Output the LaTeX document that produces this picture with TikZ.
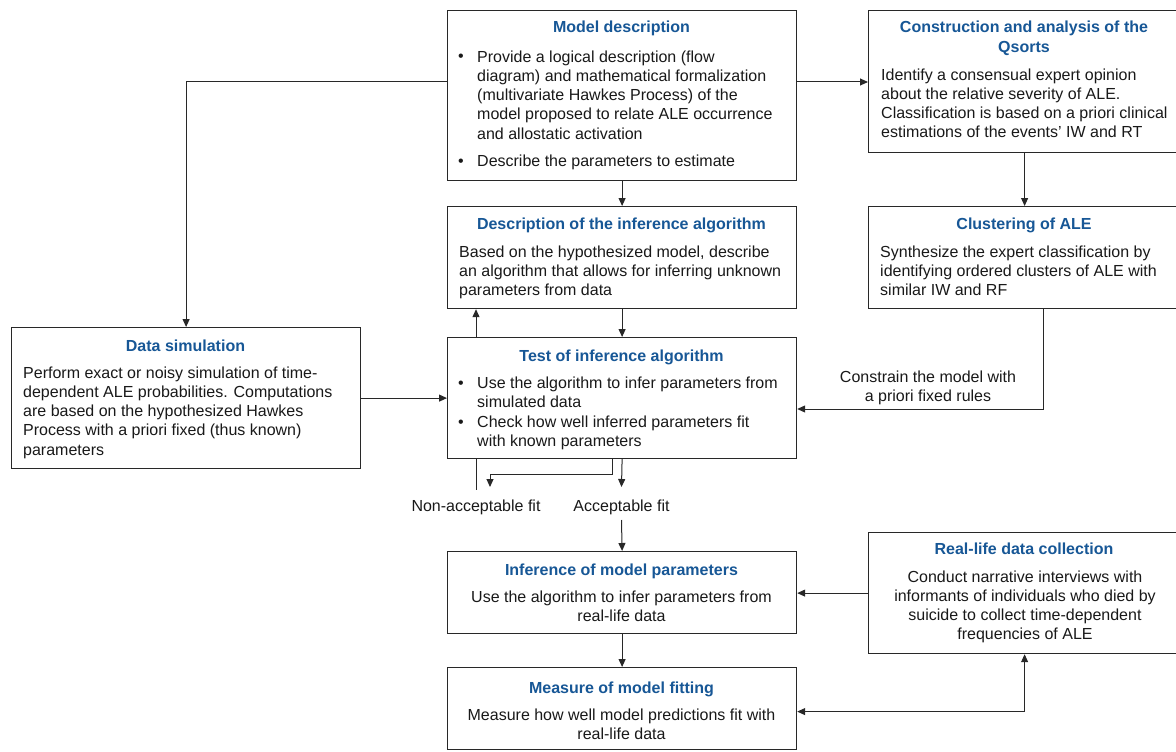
\documentclass[tikz,border=0pt]{standalone}
\usepackage{fontspec}
\setmainfont{Liberation Sans}
\usetikzlibrary{arrows.meta,calc}
\definecolor{ttl}{RGB}{23,87,150}
\definecolor{ln}{RGB}{40,40,40}
\newcommand{\bodysize}{\fontsize{16}{19.3}\selectfont}
\begin{document}
\begin{tikzpicture}[x=1pt,y=-1pt,
  box/.style={draw=ln, line width=1.2pt, inner sep=0, anchor=north west},
  ttlnode/.style={inner sep=0, font=\bodysize\bfseries, text=ttl, anchor=base, align=center},
  txtl/.style={inner sep=0, font=\bodysize, text=black!90, anchor=base west, align=left},
  txtc/.style={inner sep=0, font=\bodysize, text=black!90, anchor=base, align=center},
  arr/.style={draw=ln, line width=1pt, -{Triangle[length=8pt,width=7pt]}},
  dbl/.style={draw=ln, line width=1pt, {Triangle[length=8pt,width=7pt]}-{Triangle[length=8pt,width=7pt]}},
  plain/.style={draw=ln, line width=1pt}]
\useasboundingbox (0,0) rectangle (1176,752);
\fill[white] (0,0) rectangle (1176,752);

% boxes
\node[box, minimum width=349pt, minimum height=170pt] (md) at (447,10) {};
\node[box, minimum width=312pt, minimum height=142pt] (qs) at (868,10) {};
\node[box, minimum width=349pt, minimum height=102pt] (di) at (447,206) {};
\node[box, minimum width=312pt, minimum height=102pt] (cl) at (868,206) {};
\node[box, minimum width=349pt, minimum height=141pt] (ds) at (11,327) {};
\node[box, minimum width=349pt, minimum height=121pt] (te) at (447,337) {};
\node[box, minimum width=349pt, minimum height=82pt] (im) at (447,551) {};
\node[box, minimum width=349pt, minimum height=82pt] (mf) at (447,667) {};
\node[box, minimum width=312pt, minimum height=121pt] (rl) at (868,532) {};

% Model description
\node[ttlnode] (mdT) at (621.5,33) {Model description};
\node[txtl] (mdb1) at (458,62) {\textbullet};
\node[txtl] (mdt1) at (477,139.2) {Provide a logical description (flow\\diagram) and mathematical formalization\\(multivariate Hawkes Process) of the\\model proposed to relate ALE occurrence\\and allostatic activation};
\node[txtl] (mdb2) at (458,166) {\textbullet};
\node[txtl] (mdt2) at (477,166) {Describe the parameters to estimate};

% Qsorts
\node[ttlnode] (qsT) at (1024,52.3) {Construction and analysis of the\\Qsorts};
\node[txtl] (qsB) at (881,137.9) {Identify a consensual expert opinion\\about the relative severity of ALE.\\Classification is based on a priori clinical\\estimations of the events’ IW and RT};

% Description of inference algorithm
\node[ttlnode] (diT) at (621.5,229) {Description of the inference algorithm};
\node[txtl] (diB) at (459,295.6) {Based on the hypothesized model, describe\\an algorithm that allows for inferring unknown\\parameters from data};

% Clustering
\node[ttlnode] (clT) at (1024,229) {Clustering of ALE};
\node[txtl] (clB) at (880,295.6) {Synthesize the expert classification by\\identifying ordered clusters of ALE with\\similar IW and RF};

% Data simulation
\node[ttlnode] (dsT) at (185.5,351) {Data simulation};
\node[txtl] (dsB) at (23,455.2) {Perform exact or noisy simulation of time-\\dependent ALE probabilities. Computations\\are based on the hypothesized Hawkes\\Process with a priori fixed (thus known)\\parameters};

% Test
\node[ttlnode] (teT) at (621.5,361) {Test of inference algorithm};
\node[txtl] (teb1) at (458,388) {\textbullet};
\node[txtl] (tet1) at (477,407.3) {Use the algorithm to infer parameters from\\simulated data};
\node[txtl] (teb2) at (458,427) {\textbullet};
\node[txtl] (tet2) at (477,446.3) {Check how well inferred parameters fit\\with known parameters};

% Inference of model parameters
\node[ttlnode] (imT) at (621.5,575) {Inference of model parameters};
\node[txtc] (imB) at (621.5,621.3) {Use the algorithm to infer parameters from\\real-life data};

% Measure
\node[ttlnode] (mfT) at (621.5,693) {Measure of model fitting};
\node[txtc] (mfB) at (621.5,739.3) {Measure how well model predictions fit with\\real-life data};

% Real-life
\node[ttlnode] (rlT) at (1024,554) {Real-life data collection};
\node[txtc] (rlB) at (1025,639.9) {Conduct narrative interviews with\\informants of individuals who died by\\suicide to collect time-dependent\\frequencies of ALE};

% labels
\node[txtc] (cons) at (928,401.3) {Constrain the model with\\a priori fixed rules};
\node[txtc] (naf) at (476,511) {Non-acceptable fit};
\node[txtc] (af) at (621.5,511) {Acceptable fit};

% free ends
\coordinate (naTop) at (476,490);
\coordinate (naArr) at (490,487);
\coordinate (aArr) at (621.5,487);
\coordinate (aBot) at (621.5,520);

% connectors
\draw[arr] ([yshift=-72pt]md.north east) -- ([yshift=-72pt]qs.north west);
\draw[arr] ([yshift=-72pt]md.north west) -| (ds.north);
\draw[arr] (md.south) -- (di.north);
\draw[arr] (di.south) -- (te.north);
\draw[arr] ([xshift=29pt]te.north west) -- ([xshift=29pt]di.south west);
\draw[arr] (qs.south) -- (cl.north);
\draw[arr] ([xshift=175pt]cl.south west) |- ([yshift=-72pt]te.north east);
\draw[arr] (ds.east) -- (te.west);
\draw[plain] ([xshift=29pt]te.south west) -- (naTop);
\draw[arr] ([xshift=165pt]te.south west) -- ++(0,15) -| (naArr);
\draw[arr] (te.south) -- (aArr);
\draw[arr] (aBot) -- (im.north);
\draw[arr] (im.south) -- (mf.north);
\draw[arr] (rl.west) -- (rl.west -| im.east);
\draw[dbl] ([yshift=-3pt]mf.east) -| (rl.south);
\end{tikzpicture}
\end{document}
